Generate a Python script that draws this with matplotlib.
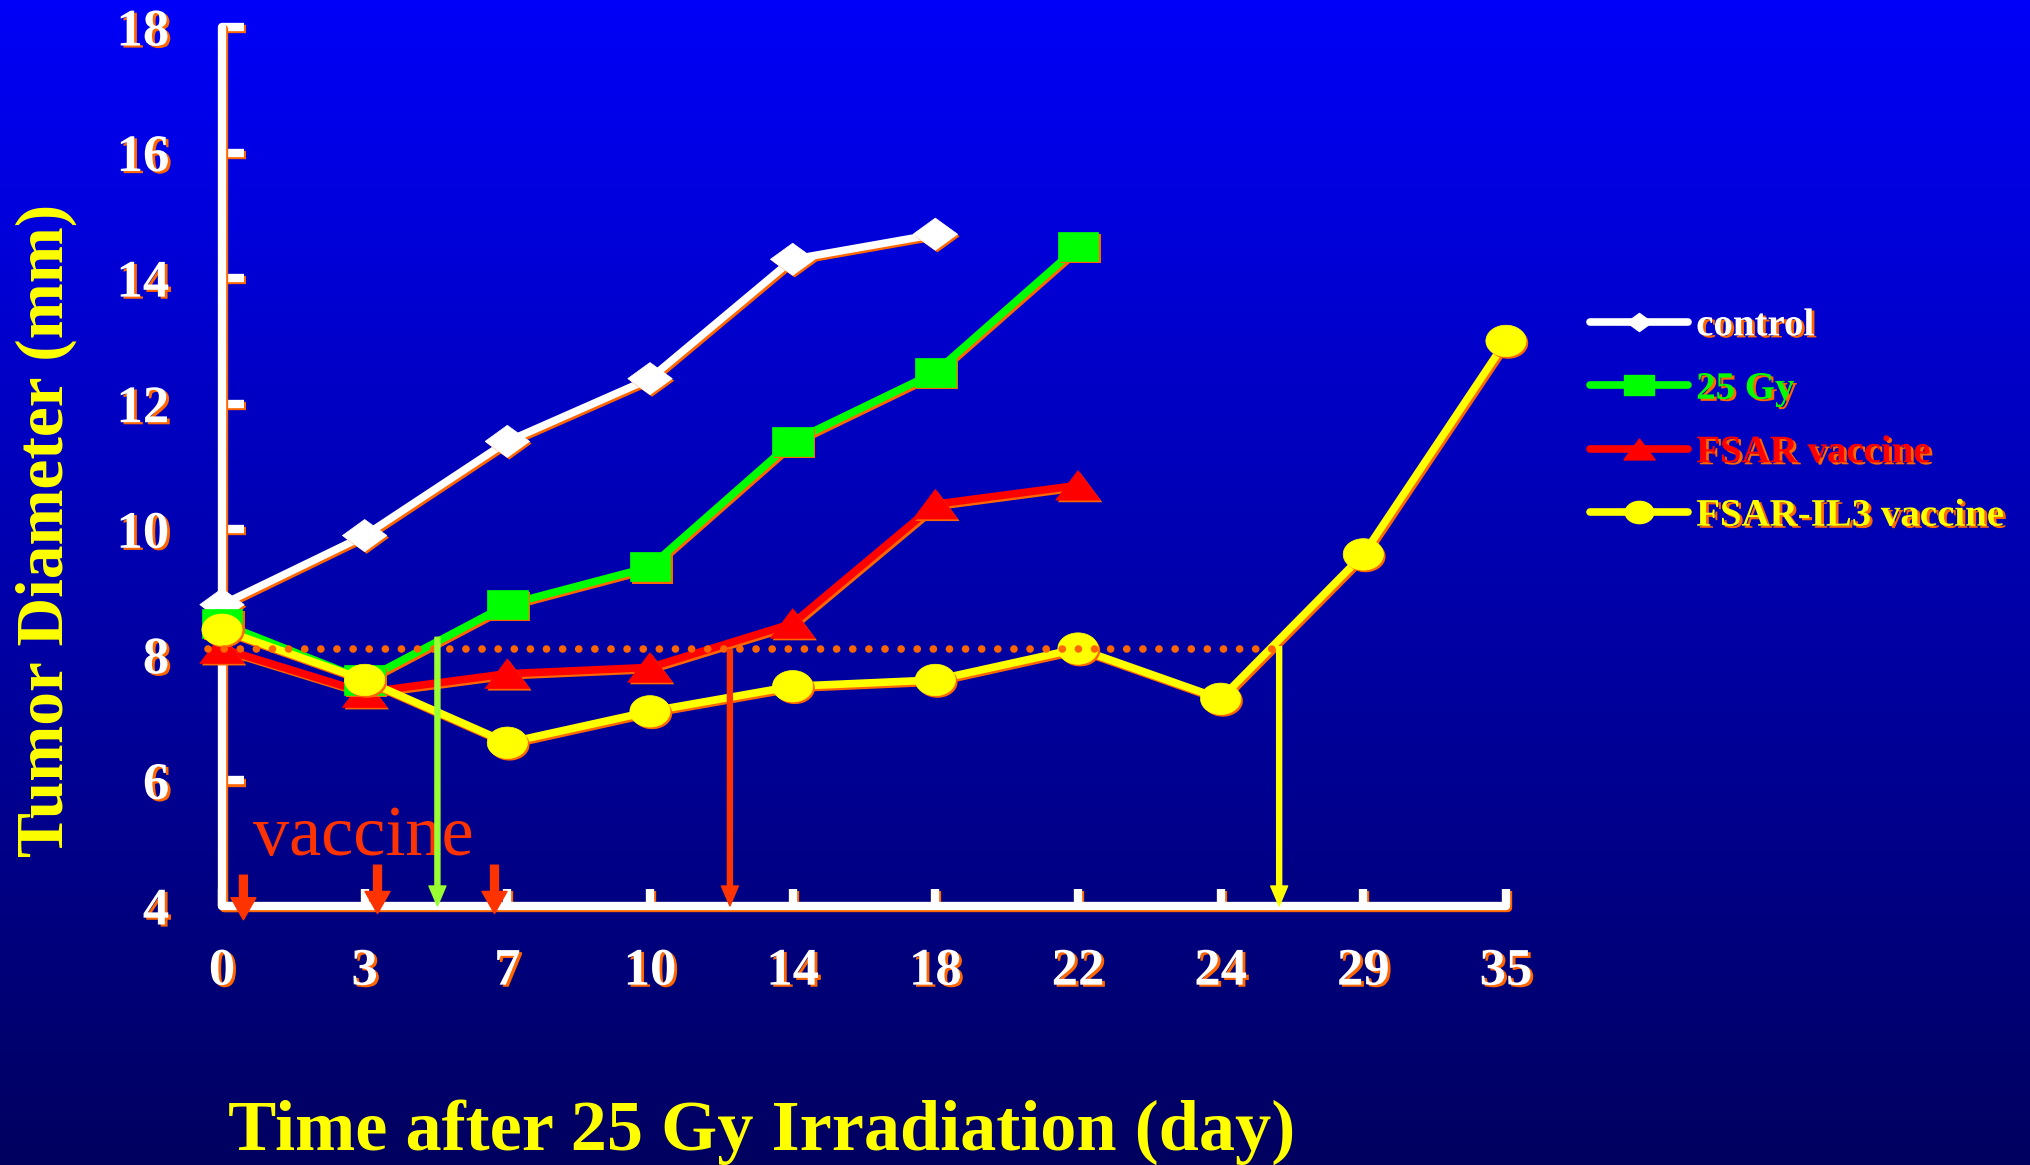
import numpy as np
import matplotlib
matplotlib.use('Agg')
import matplotlib.pyplot as plt
import matplotlib.patheffects as pe
from matplotlib.colors import LinearSegmentedColormap
from matplotlib.lines import Line2D

# ---------------- data ----------------
days = ['0', '3', '7', '10', '14', '18', '22', '24', '29', '35']
control = [8.8, 9.9, 11.4, 12.4, 14.3, 14.7]
gy25 = [8.5, 7.6, 8.8, 9.4, 11.4, 12.5, 14.5]
fsar = [8.1, 7.4, 7.7, 7.8, 8.5, 10.4, 10.7]
fsar_il3 = [8.4, 7.6, 6.6, 7.1, 7.5, 7.6, 8.1, 7.3, 9.6, 13.0]
series_names = ['control', '25 Gy', 'FSAR vaccine', 'FSAR-IL3 vaccine']
y_ticks = [4, 6, 8, 10, 12, 14, 16, 18]

threshold = 8.1
threshold_span = [-0.1, 7.41]          # category-index span of dotted line
cross_pos = [1.51, 3.56, 7.41]         # category index where curves cross threshold
cross_top = [8.28, 8.08, 8.13]
vaccine_pos = [0.15, 1.09, 1.91]       # vaccination arrows
vaccine_top = [4.49, 4.65, 4.65]
vaccine_tip = [3.78, 3.88, 3.88]

# ---------------- style ----------------
plt.rcParams['font.family'] = ['Liberation Serif', 'DejaVu Serif']
plt.rcParams['font.weight'] = 'bold'

W, H = 2031, 1165
fig = plt.figure(figsize=(W / 100, H / 100), dpi=100)

# gradient background
bg = fig.add_axes([0, 0, 1, 1], zorder=-10)
cmap = LinearSegmentedColormap.from_list('bg', [(0, 0, 95 / 255), (0, 0, 248 / 255)])
grad = np.linspace(0, 1, 256).reshape(-1, 1)
bg.imshow(grad, aspect='auto', cmap=cmap, extent=[0, 1, 0, 1], origin='lower')
bg.axis('off')

ax = fig.add_axes([222 / W, 1 - 906 / H, (1506 - 222) / W, (906 - 27) / H])
ax.set_facecolor('none')
ax.set_xlim(0, 9)
ax.set_ylim(4, 18)

ORANGE = '#FF6600'
line_fx = [pe.SimpleLineShadow(offset=(1.5, -1.5), shadow_color=ORANGE, alpha=1), pe.Normal()]
mark_fx = [pe.SimplePatchShadow(offset=(1.5, -1.5), shadow_rgbFace=ORANGE, alpha=1), pe.Normal()]
text_fx = [pe.withSimplePatchShadow(offset=(2, -1.5), shadow_rgbFace=ORANGE, alpha=1)]

diamond = [(-1.45, 0), (0, 1.05), (1.45, 0), (0, -1.05), (-1.45, 0)]
square = [(-1.41, -1), (1.41, -1), (1.41, 1), (-1.41, 1), (-1.41, -1)]
triangle = [(-1.5, -1), (1.5, -1), (0, 1), (-1.5, -1)]
t = np.linspace(0, 2 * np.pi, 61)
ellipse = list(zip(1.28 * np.cos(t), np.sin(t)))

specs = [
    (control, 'white', diamond, 32, 18, 3),
    (fsar, '#FF0000', triangle, 32, 22.5, 4),
    (gy25, '#00FF00', square, 29.5, 21, 5),
    (fsar_il3, '#FFFF00', ellipse, 29, 20.5, 6),
]
handles = {}
for vals, col, mk, ms, lms, z in specs:
    x = np.arange(len(vals))
    ax.plot(x, vals, color=col, lw=5.5, solid_joinstyle='round', clip_on=False,
            zorder=z, path_effects=line_fx)
    ax.plot(x, vals, ls='none', marker=mk, ms=ms, color=col, mec=col, mew=0.5,
            clip_on=False, zorder=z + 0.1, path_effects=mark_fx)
    handles[col] = Line2D([], [], color=col, lw=5.5, marker=mk, ms=lms, mec=col,
                          solid_capstyle='round')

# dotted threshold line
ax.plot(threshold_span, [threshold, threshold], color=ORANGE, lw=5.5,
        ls=(0, (0.01, 2.1)), dash_capstyle='round', clip_on=False, zorder=8)

# thin crossing arrows
for xp, top, col in zip(cross_pos, cross_top, ['#99FF33', '#FF3300', '#FFFF00']):
    ax.annotate('', xy=(xp, 4.0), xytext=(xp, top), annotation_clip=False,
                arrowprops=dict(arrowstyle='simple,head_length=0.72,head_width=0.61,tail_width=0.18',
                                color=col, mutation_scale=20, shrinkA=0, shrinkB=0),
                zorder=9)

# vaccination arrows
for xp, top, tip in zip(vaccine_pos, vaccine_top, vaccine_tip):
    ax.annotate('', xy=(xp, tip), xytext=(xp, top), annotation_clip=False,
                arrowprops=dict(arrowstyle='simple,head_length=0.53,head_width=0.6,tail_width=0.19',
                                color='#FF3300', mutation_scale=30, shrinkA=0, shrinkB=0),
                zorder=9)

ax.text(0.22, 4.81, 'vaccine', color='#FF3300', fontsize=52, fontweight='normal',
        ha='left', va='baseline', zorder=7)

# axes styling
for s in ['top', 'right']:
    ax.spines[s].set_visible(False)
for s in ['left', 'bottom']:
    ax.spines[s].set_color('white')
    ax.spines[s].set_linewidth(6)
    ax.spines[s].set_capstyle('round')
    ax.spines[s].set_path_effects(line_fx)

ax.set_xticks(range(len(days)))
ax.set_xticklabels(days)
ax.set_yticks(y_ticks)
ax.set_yticklabels([str(v) for v in y_ticks])
ax.tick_params(axis='y', direction='in', length=16, width=6, color='white', pad=38,
               labelsize=38, labelcolor='white')
ax.tick_params(axis='x', direction='in', length=12, width=6, color='white', pad=30,
               labelsize=38, labelcolor='white')
for lbl in ax.get_xticklabels() + ax.get_yticklabels():
    lbl.set_path_effects(text_fx)
    lbl.set_fontweight('bold')
for tk in ax.xaxis.get_major_ticks() + ax.yaxis.get_major_ticks():
    tk.tick1line.set_path_effects(line_fx)

# axis titles
fig.text(63 / W, 1 - 530 / H, 'Tumor Diameter (mm)', rotation=90, rotation_mode='anchor',
         ha='center', va='baseline', color='#FFFF00', fontsize=48.5, fontweight='bold')
fig.text(228 / W, 1 - 1150 / H, 'Time after 25 Gy Irradiation (day)', ha='left', va='baseline',
         color='#FFFF00', fontsize=52, fontweight='bold')

# legend
leg_cols = ['white', '#00FF00', '#FF0000', '#FFFF00']
leg = fig.legend([handles[c] for c in leg_cols], series_names, loc='center left',
                 bbox_to_anchor=(1590 / W, 1 - 421 / H), frameon=False, fontsize=28,
                 handlelength=2.52, handletextpad=0.21, labelspacing=0.68,
                 borderpad=0, borderaxespad=0)
for txt, c in zip(leg.get_texts(), leg_cols):
    txt.set_color(c)
    txt.set_fontweight('bold')
    txt.set_path_effects(text_fx)

fig.savefig('out.png', dpi=100)
